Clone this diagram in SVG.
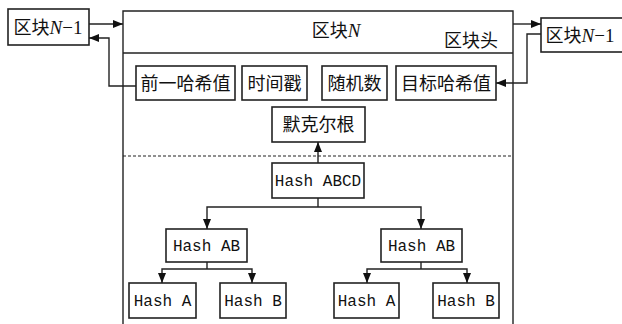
<svg xmlns="http://www.w3.org/2000/svg" width="622" height="324" viewBox="0 0 622 324">
<defs>
<marker id="ah" viewBox="0 0 10 10" refX="10" refY="5" markerWidth="10" markerHeight="10" markerUnits="userSpaceOnUse" orient="auto"><path d="M0,1 L10,5 L0,9 Z" fill="#111"/></marker>
<style>
.box{fill:#fff;stroke:#222;stroke-width:1.6}
.ln{fill:none;stroke:#222;stroke-width:1.4}
.cn{fill:none;stroke:#222;stroke-width:1.4;marker-end:url(#ah)}
.zh{font-family:"Noto Sans CJK SC","Noto Sans",sans-serif;font-size:18px;fill:#111;text-anchor:middle}
.en{font-family:"Liberation Mono",monospace;font-size:16px;fill:#111;text-anchor:middle}
.it{font-family:"Liberation Serif",serif;font-style:italic}
.rm{font-family:"Liberation Serif",serif}
</style>
</defs>
<rect width="622" height="324" fill="#fff"/>
<g id="block-N">
<path class="ln" d="M123,330 V11 H513 V330"/>
<line class="ln" x1="123" y1="53" x2="513" y2="53"/>
<line x1="123" y1="156" x2="513" y2="156" stroke="#222" stroke-width="1.2" stroke-dasharray="3,2"/>
<text class="zh" x="336" y="37">区块<tspan class="it" font-size="19">N</tspan></text>
<text class="zh" x="471" y="47">区块头</text>
</g>
<g id="prev-left"><rect class="box" x="8" y="9" width="81" height="36"/><text class="zh" x="48" y="34">区块<tspan class="it" font-size="19">N</tspan><tspan class="rm" font-size="19">−1</tspan></text></g>
<g id="prev-right"><rect class="box" x="541" y="18" width="90" height="34"/><text class="zh" x="580" y="42">区块<tspan class="it" font-size="19">N</tspan><tspan class="rm" font-size="19">−1</tspan></text></g>
<g id="prev-hash"><rect class="box" x="136" y="66" width="99" height="34"/><text class="zh" x="185.5" y="90">前一哈希值</text></g>
<g id="timestamp"><rect class="box" x="242" y="66" width="65" height="34"/><text class="zh" x="274.5" y="90">时间戳</text></g>
<g id="nonce"><rect class="box" x="322" y="66" width="65" height="34"/><text class="zh" x="354.5" y="90">随机数</text></g>
<g id="target"><rect class="box" x="396" y="66" width="100" height="34"/><text class="zh" x="446" y="90">目标哈希值</text></g>
<g id="merkle-root"><rect class="box" x="272" y="107" width="93" height="35"/><text class="zh" x="318.5" y="131">默克尔根</text></g>
<g id="hash-abcd"><rect class="box" x="272" y="163" width="92" height="35"/><text class="en" x="318" y="186">Hash ABCD</text></g>
<g id="hash-ab-l"><rect class="box" x="166" y="229" width="81" height="33"/><text class="en" x="206.5" y="251">Hash AB</text></g>
<g id="hash-ab-r"><rect class="box" x="381" y="229" width="81" height="33"/><text class="en" x="421.5" y="251">Hash AB</text></g>
<g id="hash-a-l"><rect class="box" x="129" y="283" width="67" height="35"/><text class="en" x="162.5" y="306">Hash A</text></g>
<g id="hash-b-l"><rect class="box" x="220" y="283" width="66" height="35"/><text class="en" x="253" y="306">Hash B</text></g>
<g id="hash-a-r"><rect class="box" x="334" y="283" width="65" height="35"/><text class="en" x="366.5" y="306">Hash A</text></g>
<g id="hash-b-r"><rect class="box" x="433" y="283" width="66" height="35"/><text class="en" x="466" y="306">Hash B</text></g>
<g id="connectors">
<line class="cn" x1="89" y1="24" x2="123" y2="24"/>
<polyline class="cn" points="136,86 109,86 109,38 89,38"/>
<line class="cn" x1="513" y1="24" x2="541" y2="24"/>
<polyline class="cn" points="541,34 527,34 527,83 496,83"/>
<line class="cn" x1="318" y1="163" x2="318" y2="142"/>
<polyline class="ln" points="318,198 318,207"/>
<polyline class="cn" points="318,207 207,207 207,229"/>
<polyline class="cn" points="318,207 421,207 421,229"/>
<polyline class="ln" points="207,262 207,269"/>
<polyline class="cn" points="207,269 162,269 162,283"/>
<polyline class="cn" points="207,269 252,269 252,283"/>
<polyline class="ln" points="421,262 421,269"/>
<polyline class="cn" points="421,269 367,269 367,283"/>
<polyline class="cn" points="421,269 467,269 467,283"/>
</g>
</svg>
